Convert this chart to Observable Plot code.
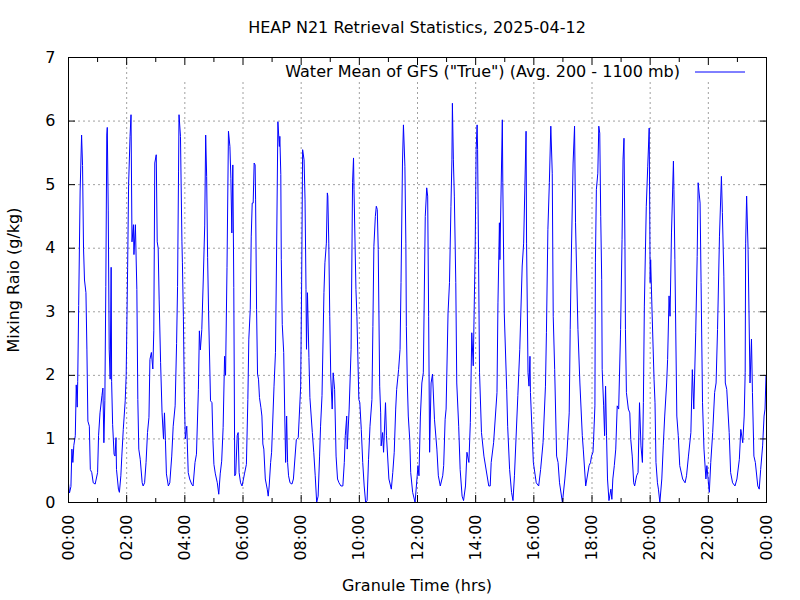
<!DOCTYPE html>
<html>
<head>
<meta charset="utf-8">
<script src="https://cdn.jsdelivr.net/npm/d3@7"></script>
<script src="https://cdn.jsdelivr.net/npm/@observablehq/plot@0.6"></script>
<style>
  body { margin: 0; background: #fff; }
  #chart svg text { font-family: "DejaVu Sans", sans-serif; }
</style>
</head>
<body>
<div id="chart"></div>
<script>
// Granule time (minutes after 00:00) and water mixing ratio (g/kg)
const minutes = [
  0,2,5,7,9,11,14,16,18,19,21,24,27,29,31,33,36,38,40,43,45,48,51,55,60,62,65,69,71,73,75,77,79,80,82,84,86,88,89,91,94,96,98,99,
  103,105,108,110,113,117,119,122,124,127,129,131,134,135,138,141,143,145,148,152,154,157,160,163,166,168,171,174,176,178,181,183,185,187,190,193,196,198,
  200,202,206,209,213,216,220,223,225,227,228,231,234,235,237,239,241,244,247,250,254,257,261,264,268,270,272,275,278,281,283,285,287,289,293,296,298,
  300,303,307,310,313,316,319,322,324,327,330,333,335,337,339,341,343,345,348,350,352,355,358,361,363,367,370,372,375,377,379,381,383,385,386,388,390,392,394,397,399,
  401,403,406,410,412,414,417,419,424,427,429,432,435,436,438,439,441,444,446,448,450,452,454,457,461,464,470,474,479,481,483,486,488,490,491,493,496,498,
  503,506,509,512,515,518,520,523,527,529,532,534,535,537,539,541,544,546,549,552,555,558,562,566,569,571,574,575,579,583,586,588,589,593,595,599,
  601,604,607,610,613,616,619,622,626,628,630,633,635,637,639,642,644,645,648,650,654,656,661,666,669,672,675,677,681,684,686,689,691,694,696,697,699,
  701,704,706,710,715,721,723,726,729,732,736,739,741,743,745,748,751,755,760,763,767,772,774,777,779,783,786,789,791,792,794,796,799,
  801,805,808,812,815,819,822,826,829,832,835,839,841,843,844,846,848,852,857,867,870,872,877,884,886,889,890,895,896,899,
  904,906,910,914,917,920,927,931,936,939,944,945,948,950,952,953,959,965,970,974,979,984,986,989,992,995,998,
  1000,1003,1007,1010,1013,1019,1024,1028,1033,1035,1037,1041,1044,1046,1048,1051,1055,1060,1062,1067,1074,1077,1079,1082,1083,1086,1087,1089,1092,1094,1096,1098,
  1100,1101,1104,1106,1108,1110,1112,1115,1119,1121,1123,1126,1129,1132,1135,1139,1142,1144,1146,1148,1149,1151,1155,1158,1160,1163,1166,1168,1172,1175,1178,1181,1184,1186,1188,1192,1195,1198,
  1200,1201,1204,1208,1210,1212,1215,1217,1220,1224,1227,1230,1234,1236,1239,1241,1244,1248,1249,1251,1255,1258,1261,1267,1272,1275,1279,1284,1287,1290,1294,1297,1299,
  1303,1305,1308,1311,1315,1317,1322,1325,1329,1333,1336,1339,1343,1347,1349,1352,1355,1358,1363,1366,1370,1375,1379,1384,1387,1391,1394,1396,1397,1399,
  1402,1406,1409,1411,1414,1417,1422,1425,1428,1432,1435,1437,1439
];
const mixingRatio = [
  0.30,0.15,0.25,0.84,0.63,0.90,1.05,1.85,1.50,1.90,3.10,4.90,5.78,5.30,4.00,3.50,3.30,2.40,1.28,1.20,0.52,0.47,0.31,0.29,0.47,1.05,1.41,1.68,1.80,0.94,1.60,3.40,5.78,5.90,4.60,2.40,1.94,3.70,1.90,1.23,0.76,0.73,1.02,0.52,
  0.21,0.16,0.42,0.73,1.15,1.60,2.00,3.70,5.00,5.76,6.10,4.10,4.37,3.90,4.37,3.35,1.62,0.84,0.68,0.31,0.26,0.31,0.63,1.10,1.34,2.25,2.36,2.10,2.70,5.34,5.47,4.10,4.00,3.20,2.20,1.41,1.00,1.41,
  0.97,0.45,0.26,0.31,0.73,1.20,1.52,2.50,3.40,5.20,6.10,5.76,4.10,3.77,2.93,1.65,1.00,1.20,0.47,0.37,0.29,0.26,0.63,0.76,1.78,2.70,2.40,2.72,3.50,4.35,5.78,5.13,3.85,3.00,1.60,1.57,0.97,
  0.60,0.45,0.31,0.13,0.45,0.65,1.18,2.30,2.00,3.70,5.84,5.60,5.10,4.24,5.31,3.38,0.42,0.45,1.05,1.10,0.47,0.31,0.26,0.37,0.45,0.60,1.62,2.57,3.04,4.19,4.71,4.71,5.34,5.31,4.76,3.04,2.02,1.94,1.65,1.49,1.36,
  0.92,0.84,0.37,0.21,0.10,0.26,0.63,0.79,1.83,2.36,3.72,5.99,5.60,5.76,5.16,3.82,2.80,2.36,1.44,0.63,1.36,0.63,0.42,0.31,0.29,0.37,0.99,1.02,1.83,3.46,5.55,5.39,4.76,3.35,2.41,3.30,2.28,1.65,
  1.10,0.79,0.42,0.00,0.10,0.73,1.20,1.68,3.30,3.77,4.08,4.87,4.82,4.08,2.93,1.99,1.47,2.04,1.78,0.73,0.37,0.31,0.26,0.26,0.63,1.05,1.36,0.84,1.47,2.41,5.03,5.42,4.92,3.35,2.93,1.62,
  1.57,1.15,0.63,0.26,0.00,0.03,0.68,1.20,1.62,2.77,4.03,4.50,4.66,4.61,3.98,1.83,1.41,0.89,1.10,0.79,1.57,1.05,0.37,0.21,0.47,0.79,1.47,1.78,2.09,2.41,3.46,5.34,5.94,5.29,4.08,2.77,1.88,
  1.36,0.99,0.47,0.16,0.00,0.58,0.42,1.36,1.88,2.04,4.50,4.95,4.82,2.93,0.79,1.88,2.02,1.31,0.84,0.42,0.26,0.42,0.58,1.31,1.47,2.98,3.46,4.66,5.39,6.28,5.39,4.82,3.46,
  1.88,1.20,0.52,0.10,0.03,0.26,0.79,0.63,1.26,2.67,2.15,3.98,5.55,5.94,5.55,3.82,2.04,1.10,0.73,0.26,0.26,0.63,0.94,1.73,3.14,4.40,3.82,6.02,5.03,2.98,
  1.78,1.20,0.52,0.16,0.03,0.42,1.68,2.41,3.72,4.08,5.84,4.08,2.04,1.83,2.30,1.73,0.63,0.31,0.26,0.52,0.94,1.83,2.67,4.29,5.03,5.92,5.18,
  2.93,2.09,0.73,0.63,0.31,0.00,0.37,0.73,1.41,2.72,3.72,5.34,5.92,4.40,3.72,2.72,1.88,1.05,0.84,0.26,0.58,0.63,0.73,0.79,0.94,1.52,3.77,4.92,5.18,5.92,5.81,4.50,
  3.51,2.09,1.52,1.05,1.83,1.05,0.37,0.03,0.21,0.05,0.37,0.58,0.84,1.52,1.47,2.72,4.14,5.39,5.73,4.03,2.72,1.73,1.47,1.41,0.99,0.73,0.31,0.26,0.42,0.47,1.57,0.89,0.63,1.57,3.09,4.66,5.29,5.89,
  3.46,3.82,2.98,1.94,1.57,0.63,0.31,0.21,0.00,0.37,0.89,1.36,1.88,2.25,3.25,2.93,4.24,5.37,4.92,3.82,1.36,1.05,0.58,0.37,0.31,0.42,0.73,1.10,2.09,1.47,2.67,3.87,5.03,
  4.71,3.46,1.57,0.84,0.37,0.58,0.16,0.63,1.10,1.73,1.88,2.72,4.19,5.13,4.56,3.56,1.88,1.78,1.10,0.47,0.31,0.26,0.37,0.68,1.15,0.94,1.36,2.04,4.08,4.82,
  3.98,1.88,2.57,1.73,0.73,0.63,0.26,0.21,0.52,0.89,1.36,1.47,2.00
];
const xTickMinutes = [0,120,240,360,480,600,720,840,960,1080,1200,1320,1440];
const xTickLabels = ["00:00","02:00","04:00","06:00","08:00","10:00","12:00","14:00","16:00","18:00","20:00","22:00","00:00"];
const xMinorMinutes = [60,180,300,420,540,660,780,900,1020,1140,1260,1380];
const yTicks = [0,1,2,3,4,5,6,7];

const titleText = "HEAP N21 Retrieval Statistics, 2025-04-12";
const legendText = 'Water Mean of GFS ("True") (Avg. 200 - 1100 mb)';
const yLabel = "Mixing Raio (g/kg)";
const xLabel = "Granule Time (hrs)";

const data = minutes.map((t, i) => ({t, v: mixingRatio[i]}));
const gridStyle = {stroke: "#a0a0a0", strokeOpacity: 1, strokeDasharray: "2,3", strokeWidth: 1};
const noText = {tickFormat: () => "", label: null};

function legendBox(index, scales, values, dims) {
  const r = document.createElementNS("http://www.w3.org/2000/svg", "rect");
  const left = 150;
  r.setAttribute("x", left);
  r.setAttribute("y", dims.marginTop + 1);
  r.setAttribute("width", dims.width - dims.marginRight - left - 1);
  r.setAttribute("height", 24);
  r.setAttribute("fill", "white");
  return r;
}

const chart = Plot.plot({
  width: 800,
  height: 600,
  marginTop: 57,
  marginRight: 34,
  marginBottom: 98,
  marginLeft: 68,
  style: {fontFamily: "DejaVu Sans", fontSize: "16px", color: "black", background: "white"},
  x: {domain: [0, 1440]},
  y: {domain: [0, 7]},
  marks: [
    Plot.gridX(xTickMinutes.slice(1, -1), gridStyle),
    Plot.gridY(yTicks.slice(1, -1), gridStyle),
    legendBox,
    Plot.line(data, {x: "t", y: "v", stroke: "#0000ff", strokeWidth: 1}),
    Plot.frame({stroke: "black", strokeWidth: 1}),
    Plot.axisX(xTickMinutes, {anchor: "bottom", tickSize: -7, ...noText}),
    Plot.axisX(xTickMinutes, {anchor: "top", tickSize: -7, ...noText}),
    Plot.axisX(xMinorMinutes, {anchor: "bottom", tickSize: -4, ...noText}),
    Plot.axisX(xMinorMinutes, {anchor: "top", tickSize: -4, ...noText}),
    Plot.axisY(yTicks, {anchor: "left", tickSize: -7, ...noText}),
    Plot.axisY(yTicks, {anchor: "right", tickSize: -7, ...noText}),
    Plot.axisX(xTickMinutes, {anchor: "bottom", tickSize: 0, tickPadding: 12, tickRotate: -90, fontSize: 16,
      tickFormat: d => xTickLabels[xTickMinutes.indexOf(d)], label: null}),
    Plot.axisY(yTicks, {anchor: "left", tickSize: 0, tickPadding: 13, fontSize: 16, tickFormat: d => String(d), label: null})
  ]
});

const svg = d3.select(chart);
svg.append("text").attr("x", 417).attr("y", 33).attr("text-anchor", "middle")
  .attr("font-size", 16).attr("fill", "black").text(titleText);
svg.append("text").attr("x", 680).attr("y", 77).attr("text-anchor", "end")
  .attr("font-size", 16).attr("fill", "black").text(legendText);
svg.append("line").attr("x1", 695).attr("x2", 745).attr("y1", 72).attr("y2", 72)
  .attr("stroke", "#0000ff").attr("stroke-width", 1);
svg.append("text").attr("transform", "translate(19,280) rotate(-90)").attr("text-anchor", "middle")
  .attr("font-size", 16).attr("fill", "black").text(yLabel);
svg.append("text").attr("x", 417).attr("y", 591).attr("text-anchor", "middle")
  .attr("font-size", 16).attr("fill", "black").text(xLabel);

document.getElementById("chart").appendChild(chart);
</script>
</body>
</html>
